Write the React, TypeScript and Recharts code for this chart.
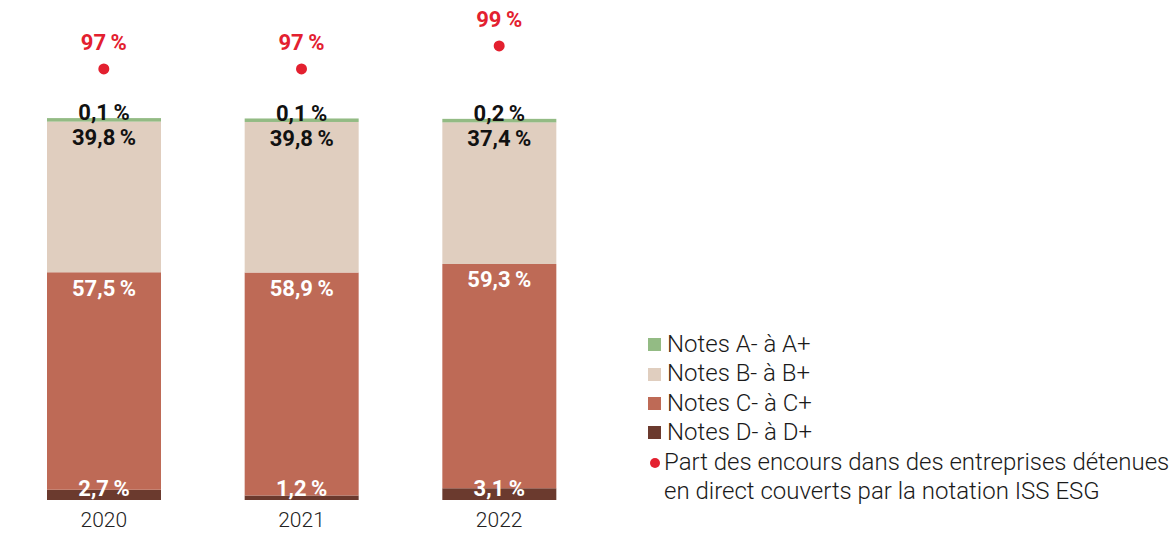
import React from 'react';
import { Bar, ComposedChart, LabelList, Line, XAxis, YAxis } from 'recharts';

const years = ['2020', '2021', '2022'];
const notesA = [0.1, 0.1, 0.2];
const notesB = [39.8, 39.8, 37.4];
const notesC = [57.5, 58.9, 59.3];
const notesD = [2.7, 1.2, 3.1];
const coverage = [97, 97, 99];

const COLORS = {
  a: '#93bb84',
  b: '#e0cebf',
  c: '#be6a56',
  d: '#6b3a2e',
  dot: '#e3202f',
};

const legendItems = [
  { name: 'Notes A- à A+', color: COLORS.a },
  { name: 'Notes B- à B+', color: COLORS.b },
  { name: 'Notes C- à C+', color: COLORS.c },
  { name: 'Notes D- à D+', color: COLORS.d },
];

const data = years.map((year, i) => ({
  year,
  a: notesA[i],
  b: notesB[i],
  c: notesC[i],
  d: notesD[i],
  coverage: coverage[i],
}));

const pct = (v: any) => `${String(v).replace('.', ',')}\u2009%`;

// la part A est trop fine pour être visible, on lui donne une hauteur mini
const ThinBar = (props: any) => {
  const { x, y, width, height, fill } = props;
  const h = Math.max(height, 3.5);
  return <rect x={x} y={y + height - h} width={width} height={h} fill={fill} />;
};

const labelStyle = { fontSize: 22, fontWeight: 700 };

const ChartLegend = () => (
  <div
    style={{
      position: 'absolute',
      left: 648,
      top: 330,
      fontSize: 24,
      fontWeight: 300,
      color: '#1a1a1a',
      lineHeight: '29.4px',
      whiteSpace: 'nowrap',
    }}
  >
    {legendItems.map(item => (
      <div key={item.name} style={{ display: 'flex', alignItems: 'center' }}>
        <span style={{ width: 13, height: 13, background: item.color, marginRight: 6, display: 'inline-block' }} />
        {item.name}
      </div>
    ))}
    <div style={{ display: 'flex', alignItems: 'flex-start' }}>
      <span
        style={{
          width: 10,
          height: 10,
          borderRadius: '50%',
          background: COLORS.dot,
          marginTop: 10,
          marginLeft: 2,
          marginRight: 4,
          display: 'inline-block',
          flexShrink: 0,
        }}
      />
      <span>
        Part des encours dans des entreprises détenues
        <br />
        en direct couverts par la notation ISS ESG
      </span>
    </div>
  </div>
);

export default function App() {
  return (
    <div style={{ position: 'absolute', left: 0, top: 0, width: 1173, height: 534, fontFamily: 'Roboto' }}>
      <ComposedChart
        width={1173}
        height={534}
        data={data}
        margin={{ top: 27, right: 575, left: 5, bottom: 4 }}
      >
        <XAxis
          dataKey='year'
          height={30}
          axisLine={false}
          tickLine={false}
          tickSize={0}
          tickMargin={12}
          tick={{ fill: '#222', fontSize: 21, fontWeight: 300 }}
        />
        <YAxis yAxisId='bars' hide domain={[0, 125]} />
        <YAxis yAxisId='dots' hide orientation='right' domain={[59.52, 100.65]} />
        <Bar yAxisId='bars' dataKey='d' stackId='s' fill={COLORS.d} barSize={114} isAnimationActive={false}>
          <LabelList dataKey='d' position='insideBottom' offset={4} formatter={pct} fill='#fff' style={labelStyle} />
        </Bar>
        <Bar yAxisId='bars' dataKey='c' stackId='s' fill={COLORS.c} barSize={114} isAnimationActive={false}>
          <LabelList dataKey='c' position='insideTop' offset={8} formatter={pct} fill='#fff' style={labelStyle} />
        </Bar>
        <Bar yAxisId='bars' dataKey='b' stackId='s' fill={COLORS.b} barSize={114} isAnimationActive={false}>
          <LabelList dataKey='b' position='insideTop' offset={8} formatter={pct} fill='#111' style={labelStyle} />
        </Bar>
        <Bar
          yAxisId='bars'
          dataKey='a'
          stackId='s'
          fill={COLORS.a}
          barSize={114}
          shape={ThinBar}
          isAnimationActive={false}
        >
          <LabelList dataKey='a' position='top' offset={1} formatter={pct} fill='#111' style={labelStyle} />
        </Bar>
        <Line
          yAxisId='dots'
          dataKey='coverage'
          stroke='none'
          dot={{ r: 5.5, fill: COLORS.dot, stroke: 'none' }}
          isAnimationActive={false}
        >
          <LabelList dataKey='coverage' position='top' offset={19} formatter={pct} fill={COLORS.dot} style={labelStyle} />
        </Line>
      </ComposedChart>
      <ChartLegend />
    </div>
  );
}
